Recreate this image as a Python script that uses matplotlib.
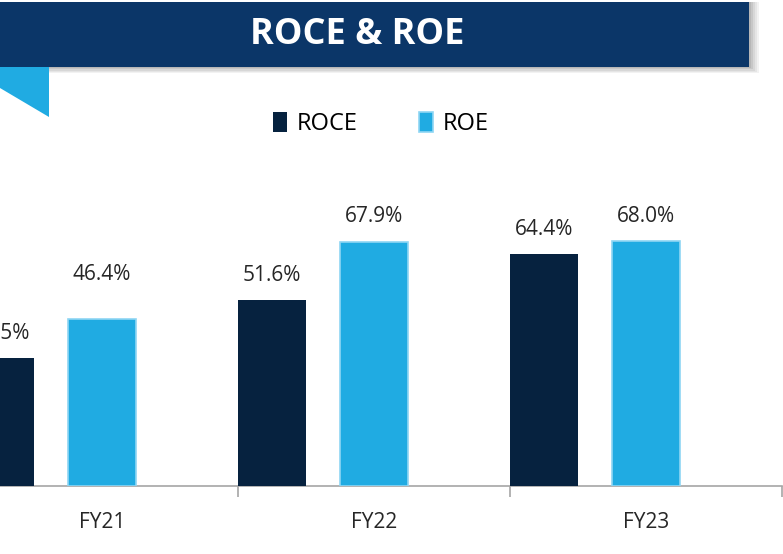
import numpy as np
import matplotlib.pyplot as plt
from matplotlib.patches import Rectangle, Polygon

categories = ['FY21', 'FY22', 'FY23']
roce = [35.5, 51.6, 64.4]
roe = [46.4, 67.9, 68.0]

NAVY = '#06223F'
SKY = '#20ABE2'
BANNER = '#0B3668'

plt.rcParams['font.family'] = ['Open Sans', 'DejaVu Sans']

W, H = 783, 554
fig = plt.figure(figsize=(W / 100, H / 100), dpi=100)


def fx(px):
    return px / W


def fy(py):
    return 1 - py / H


# banner shadow
for i, a in enumerate([0.05, 0.05, 0.06, 0.07, 0.08]):
    d = 10 - 2 * i
    fig.patches.append(Rectangle((fx(0), fy(67 + d * 0.6)), fx(749 + d), fy(2) - fy(67 + d * 0.6),
                                 transform=fig.transFigure, facecolor='#000000',
                                 alpha=a, edgecolor='none', zorder=0))
fig.patches.append(Rectangle((fx(-5), fy(67)), fx(754), fy(2) - fy(67),
                             transform=fig.transFigure, facecolor=BANNER,
                             edgecolor='none', zorder=1))
fig.text(fx(357), fy(35), 'ROCE & ROE', color='white', fontsize=26,
         fontweight='bold', ha='center', va='center', zorder=2)

# ribbon fold
fig.patches.append(Polygon([(fx(0), fy(67)), (fx(49), fy(67)), (fx(49), fy(117)), (fx(0), fy(88))],
                           closed=True, transform=fig.transFigure, facecolor=SKY,
                           edgecolor='none', zorder=1))

# axes area
ax = fig.add_axes([fx(-34), fy(486), fx(816), fy(198) - fy(486)])
x = np.arange(len(categories))
bw = 0.25
b1 = ax.bar(x - 0.375, roce, bw, color=NAVY, label='ROCE', zorder=3)
b2 = ax.bar(x, roe, bw, color=SKY, edgecolor='#8FD6F3', linewidth=1.2, label='ROE', zorder=3)

for bars, vals in [(b1, roce), (b2, roe)]:
    for rect, v in zip(bars, vals):
        # the FY21 ROE label sits higher in the original
        up = 32 if (bars is b2 and rect is bars[0]) else 18
        ax.annotate(f'{v:.1f}%', (rect.get_x() + rect.get_width() / 2, v),
                    xytext=(0, up), textcoords='offset points', ha='center',
                    va='center', fontsize=15, color='#262626')

ax.set_xlim(-0.5, 2.5)
ax.set_ylim(0, 80)
ax.set_yticks([])
for s in ['top', 'left', 'right']:
    ax.spines[s].set_visible(False)
ax.spines['bottom'].set_color('#A6A6A6')
ax.spines['bottom'].set_linewidth(1.2)

ax.set_xticks([0.5, 1.5, 2.5])
ax.set_xticklabels([])
ax.tick_params(axis='x', which='major', length=8, color='#A6A6A6', width=1.2)
ax.set_xticks(x, minor=True)
ax.set_xticklabels(categories, minor=True)
ax.tick_params(axis='x', which='minor', length=0, pad=19, labelsize=15, labelcolor='#262626')

leg = fig.legend(handles=[b1, b2], loc='center', bbox_to_anchor=(fx(381), fy(124)),
                 ncol=2, frameon=False, fontsize=17, handlelength=0.6, handleheight=0.9,
                 handletextpad=0.4, columnspacing=2.6)

fig.savefig('out.png', dpi=100)
